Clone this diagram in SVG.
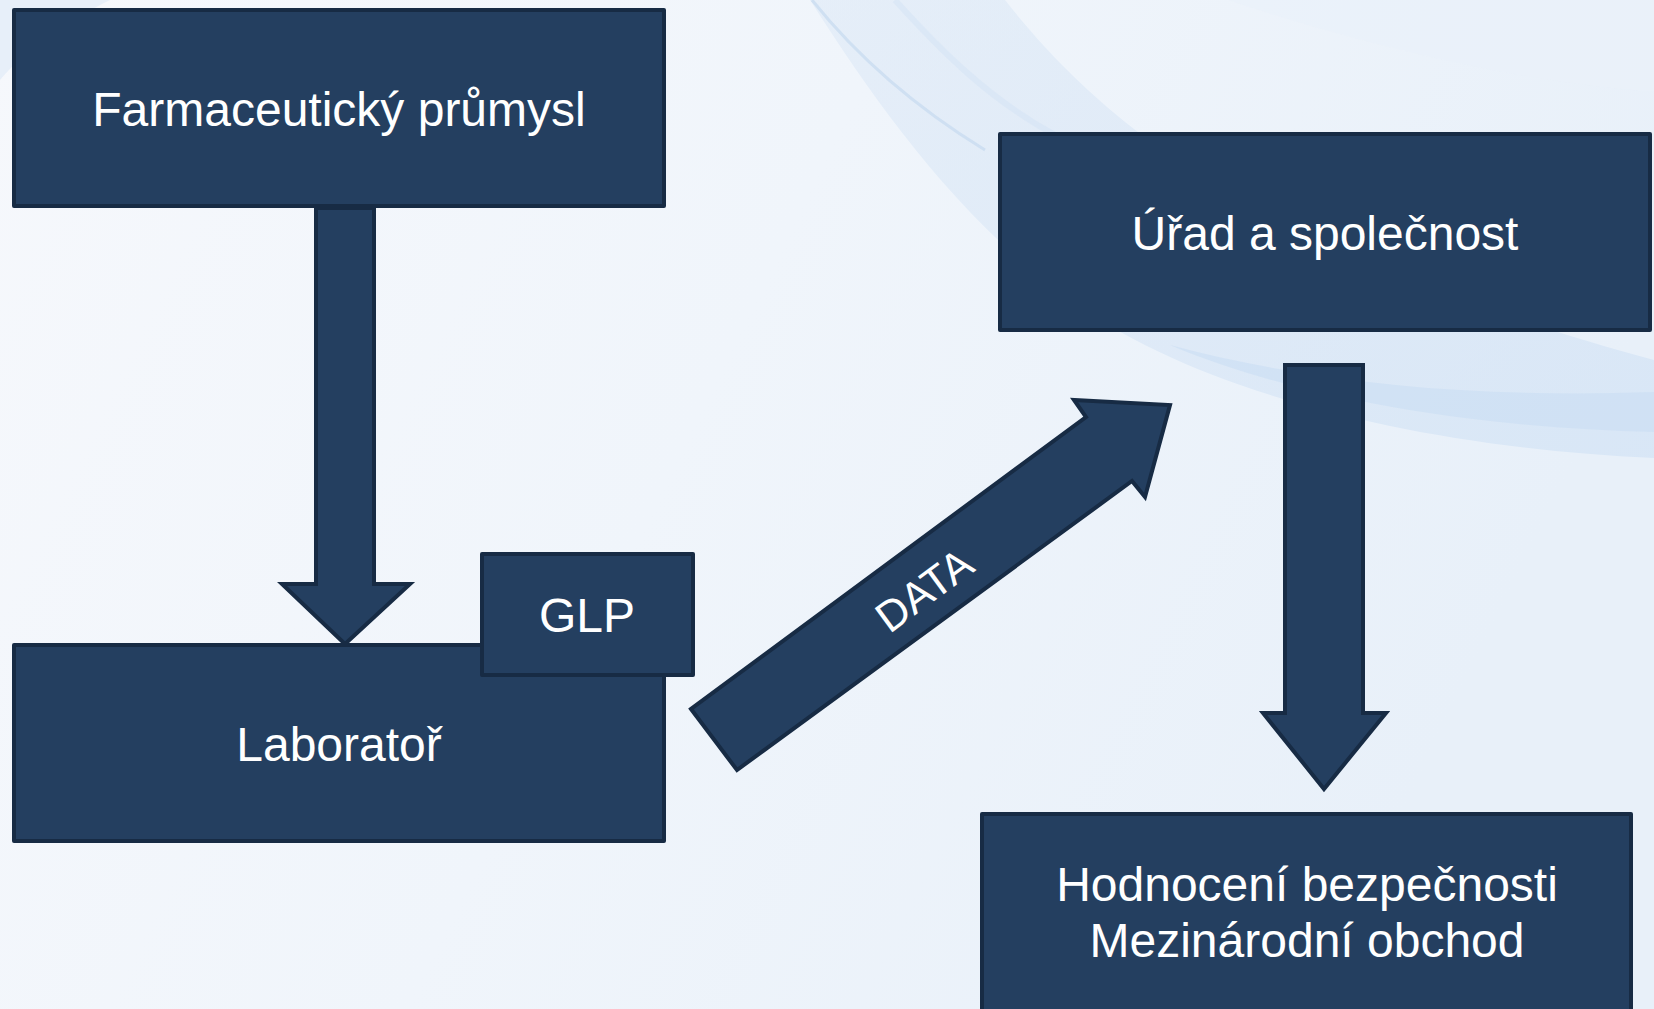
<svg xmlns="http://www.w3.org/2000/svg" width="1654" height="1009" viewBox="0 0 1654 1009">
  <defs>
    <linearGradient id="bg" x1="0" y1="0" x2="1" y2="0.3">
      <stop offset="0" stop-color="#F6F8FC"/>
      <stop offset="0.5" stop-color="#F0F5FB"/>
      <stop offset="1" stop-color="#E8F0F9"/>
    </linearGradient>
    <linearGradient id="sw" x1="0" y1="0" x2="1" y2="1">
      <stop offset="0" stop-color="#DCE8F6"/>
      <stop offset="1" stop-color="#CCDFF4"/>
    </linearGradient>
    <style>
      .box { fill: #243F60; stroke: #172B44; stroke-width: 4; stroke-linejoin: round; }
      .arr { fill: #243F60; stroke: #172B44; stroke-width: 4; stroke-linejoin: miter; }
      .lbl { font-family: "Liberation Sans", Arial, sans-serif; font-size: 48px; fill: #FFFFFF; text-anchor: middle; }
      .dlbl { font-family: "Liberation Sans", Arial, sans-serif; font-size: 43px; fill: #FFFFFF; text-anchor: middle; }
    </style>
  </defs>

  <!-- background -->
  <rect x="0" y="0" width="1654" height="1009" fill="url(#bg)"/>
  <path d="M0,0 L110,0 C70,20 30,45 0,80 Z" fill="#E3ECF7" opacity="0.8"/>
  <path d="M1228,0 L1654,0 L1654,92 C1500,80 1350,40 1228,0 Z" fill="#EAF1FA" opacity="0.7"/>
  <path d="M810,0 L1005,0 C1100,120 1250,250 1654,360 L1654,458 C1380,445 1180,380 1070,300 C960,220 880,110 810,0 Z" fill="url(#sw)" opacity="0.55"/>
  <path d="M1170,345 C1300,400 1480,428 1654,432 L1654,392 C1480,398 1320,385 1170,345 Z" fill="#C9DDF3" opacity="0.6"/>
  <path d="M812,0 C860,60 920,110 985,150" fill="none" stroke="#C6DAF0" stroke-width="3" opacity="0.7"/>
  <path d="M895,0 C940,50 990,100 1055,135" fill="none" stroke="#D6E5F5" stroke-width="6" opacity="0.6"/>

  <!-- connectors -->
  <g id="connectors">
    <polygon class="arr" points="316,208 374,208 374,584 410,584 345,644 282,584 316,584"/>
    <polygon class="arr" points="1285,365 1363,365 1363,713 1386,713 1324,789 1263,713 1285,713"/>
    <g id="data-arrow">
      <polygon class="arr" points="691,709 737,770 1132,481 1145,497 1170,405 1074,400 1086,417"/>
      <text class="dlbl" x="924" y="605" transform="rotate(-36.5 924 590)">DATA</text>
    </g>
  </g>

  <g id="node-farm">
    <rect class="box" x="14" y="10" width="650" height="196"/>
    <text class="lbl" x="339" y="126">Farmaceutický průmysl</text>
  </g>
  <g id="node-lab">
    <rect class="box" x="14" y="645" width="650" height="196"/>
    <text class="lbl" x="339" y="761">Laboratoř</text>
  </g>
  <g id="node-glp">
    <rect class="box" x="482" y="554" width="211" height="121"/>
    <text class="lbl" x="587" y="632">GLP</text>
  </g>
  <g id="node-urad">
    <rect class="box" x="1000" y="134" width="650" height="196"/>
    <text class="lbl" x="1325" y="250">Úřad a společnost</text>
  </g>
  <g id="node-hodnoceni">
    <rect class="box" x="982" y="814" width="649" height="220"/>
    <text class="lbl" x="1307" y="901">Hodnocení bezpečnosti</text>
    <text class="lbl" x="1307" y="957">Mezinárodní obchod</text>
  </g>
</svg>
